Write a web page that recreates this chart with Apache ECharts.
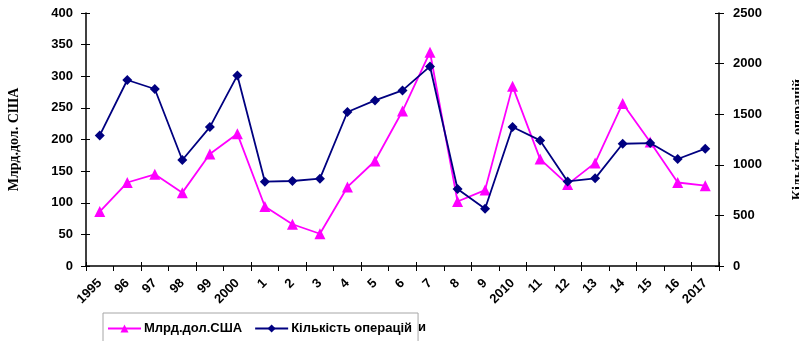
<!DOCTYPE html>
<html>
<head>
<meta charset="utf-8">
<script src="https://cdn.jsdelivr.net/npm/echarts@6/dist/echarts.min.js"></script>
<style>
  html, body { margin: 0; padding: 0; background: #fff; }
  #chart { width: 799px; height: 341px; }
</style>
</head>
<body>
<div id="chart"></div>
<script>
// Years (short labels as printed on the axis)
const years = ['1995', '96', '97', '98', '99', '2000', '1', '2', '3', '4', '5', '6', '7',
               '8', '9', '2010', '11', '12', '13', '14', '15', '16', '2017'];

// Deal value, billion USD (left axis)
const valueBn = [86, 132, 145, 116, 177, 209, 94, 66, 51, 125, 166, 245, 338,
                 102, 120, 284, 169, 129, 163, 257, 196, 132, 127];

// Number of deals (right axis)
const dealCount = [1290, 1838, 1749, 1047, 1373, 1883, 833, 840, 863, 1522, 1636, 1735, 1972,
                   761, 566, 1373, 1241, 836, 866, 1208, 1215, 1057, 1159];

const seriesNames = ['Млрд.дол.США', 'Кількість операцій'];
const leftTitle = 'Млрд.дол. США';
const rightTitle = 'Кількість операцій';

const tickFont = { fontFamily: 'Liberation Sans, Arial, sans-serif', fontWeight: 'bold', fontSize: 13, color: '#000' };
const titleFont = { fontFamily: 'Liberation Serif, Times New Roman, serif', fontWeight: 'bold', fontSize: 14, color: '#000' };
const axisLine = { show: true, lineStyle: { color: '#000', width: 1.5 } };
const tickOut = { show: true, length: 5, lineStyle: { color: '#000', width: 1 } };
const tickIn = { show: true, inside: true, length: 4, lineStyle: { color: '#000', width: 1 } };
const plain = v => String(v);

// Helper axes that only add the inner half of the crossing tick marks
const innerTicks = (extra) => Object.assign({
  axisLine: { show: false }, axisTick: tickIn, axisLabel: { show: false }, splitLine: { show: false }
}, extra);

const chart = echarts.init(document.getElementById('chart'), null, { renderer: 'canvas' });
chart.setOption({
  animation: false,
  backgroundColor: '#fff',
  grid: { left: 86, right: 80, top: 13, bottom: 75, containLabel: false, outerBoundsMode: 'none' },
  legend: {
    data: seriesNames,
    left: 103, top: 313,
    padding: [9, 6, 20, 4],
    itemWidth: 33, itemHeight: 10, itemGap: 12,
    borderColor: '#a6a6a6', borderWidth: 1,
    textStyle: Object.assign({}, tickFont, { padding: [0, 0, 0, -2] })
  },
  xAxis: [
    {
      type: 'category', data: years, boundaryGap: true, position: 'bottom',
      axisLine: axisLine, axisTick: tickOut,
      axisLabel: Object.assign({ rotate: 45, margin: 15, interval: 0 }, tickFont),
      splitLine: { show: false }
    },
    innerTicks({ type: 'category', data: years, boundaryGap: true, position: 'bottom' })
  ],
  yAxis: [
    {
      type: 'value', min: 0, max: 400, interval: 50, position: 'left',
      axisLine: axisLine, axisTick: tickOut,
      axisLabel: Object.assign({ margin: 13, formatter: plain }, tickFont),
      splitLine: { show: false },
      name: leftTitle, nameLocation: 'middle', nameRotate: 90, nameGap: 65,
      nameTextStyle: titleFont
    },
    {
      type: 'value', min: 0, max: 2500, interval: 500, position: 'right',
      axisLine: axisLine, axisTick: tickOut,
      axisLabel: Object.assign({ margin: 14, formatter: plain }, tickFont),
      splitLine: { show: false },
      name: rightTitle, nameLocation: 'middle', nameRotate: 90, nameGap: 72,
      nameTextStyle: titleFont
    },
    innerTicks({ type: 'value', min: 0, max: 400, interval: 50, position: 'left' }),
    innerTicks({ type: 'value', min: 0, max: 2500, interval: 500, position: 'right' })
  ],
  graphic: [
    { type: 'text', left: 418, top: 321, style: { text: 'и', fill: '#000', font: 'bold 13px Liberation Sans, Arial, sans-serif' } }
  ],
  series: [
    {
      name: seriesNames[0], type: 'line', yAxisIndex: 0, data: valueBn,
      symbol: 'triangle', symbolSize: 11, showAllSymbol: true,
      lineStyle: { color: '#ff00ff', width: 1.8 },
      itemStyle: { color: '#ff00ff' }, z: 2
    },
    {
      name: seriesNames[1], type: 'line', yAxisIndex: 1, data: dealCount,
      symbol: 'diamond', symbolSize: 10, showAllSymbol: true,
      lineStyle: { color: '#000080', width: 1.8 },
      itemStyle: { color: '#000080' }, z: 3
    }
  ]
});
</script>
</body>
</html>
